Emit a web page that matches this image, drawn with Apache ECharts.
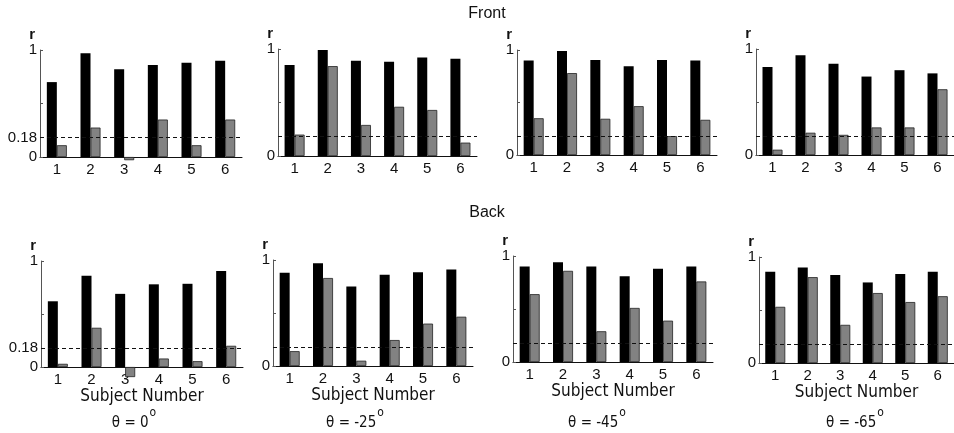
<!DOCTYPE html>
<html>
<head>
<meta charset="utf-8">
<script src="https://cdn.jsdelivr.net/npm/echarts@6/dist/echarts.min.js"></script>
<style>
html,body{margin:0;padding:0;background:#fff;}
#chart{width:954px;height:433px;}
</style>
</head>
<body>
<div id="chart"></div>
<script>
// ---- data ----
var subjects = ['1', '2', '3', '4', '5', '6'];
var front0Black  = [0.70, 0.97, 0.82, 0.86, 0.88, 0.90];
var front0Gray   = [0.11, 0.275, -0.03, 0.35, 0.11, 0.35];
var front25Black = [0.85, 0.99, 0.89, 0.88, 0.92, 0.91];
var front25Gray  = [0.20, 0.84, 0.29, 0.46, 0.43, 0.125];
var front45Black = [0.90, 0.99, 0.905, 0.845, 0.905, 0.90];
var front45Gray  = [0.35, 0.78, 0.345, 0.465, 0.18, 0.335];
var front65Black = [0.83, 0.94, 0.86, 0.74, 0.80, 0.77];
var front65Gray  = [0.05, 0.21, 0.19, 0.26, 0.26, 0.62];
var back0Black   = [0.62, 0.86, 0.69, 0.78, 0.785, 0.905];
var back0Gray    = [0.03, 0.37, -0.095, 0.08, 0.055, 0.20];
var back25Black  = [0.88, 0.97, 0.75, 0.86, 0.885, 0.91];
var back25Gray   = [0.14, 0.83, 0.05, 0.245, 0.40, 0.465];
var back45Black  = [0.90, 0.94, 0.90, 0.81, 0.88, 0.90];
var back45Gray   = [0.64, 0.86, 0.29, 0.51, 0.39, 0.76];
var back65Black  = [0.86, 0.90, 0.83, 0.76, 0.84, 0.86];
var back65Gray   = [0.53, 0.81, 0.36, 0.66, 0.575, 0.63];
var threshold = 0.18;
var yTickValues = [0, 0.5, 1];
var yLabelValues = [0, 1];
var yLabelValuesWithThreshold = [0, 0.18, 1];
var angleLabels = ['0', '-25', '-45', '-65'];
var rowTitles = ['Front', 'Back'];
var xAxisTitle = 'Subject Number';
var yAxisTitle = 'r';

// ---- layout ----
var panels = [
  {black: front0Black,  gray: front0Gray,  grid: {left: 40,  top: 50,  width: 202, height: 107}, thr: true,  bottom: false},
  {black: front25Black, gray: front25Gray, grid: {left: 278, top: 49,  width: 199, height: 107}, thr: false, bottom: false},
  {black: front45Black, gray: front45Gray, grid: {left: 517, top: 50,  width: 200, height: 105}, thr: false, bottom: false},
  {black: front65Black, gray: front65Gray, grid: {left: 756, top: 49,  width: 199, height: 106}, thr: false, bottom: false},
  {black: back0Black,   gray: back0Gray,   grid: {left: 41,  top: 261, width: 202, height: 106}, thr: true,  bottom: true},
  {black: back25Black,  gray: back25Gray,  grid: {left: 273, top: 260, width: 200, height: 106}, thr: false, bottom: true},
  {black: back45Black,  gray: back45Gray,  grid: {left: 513, top: 256, width: 200, height: 106}, thr: false, bottom: true},
  {black: back65Black,  gray: back65Gray,  grid: {left: 759, top: 257, width: 200, height: 106}, thr: false, bottom: true}
];

var FONT = '"Liberation Sans", Arial, sans-serif';
var NARROW = '"Liberation Sans Narrow", "Arial Narrow", "DejaVu Sans Condensed", sans-serif';
var TXT = '#111';

var grids = [], xAxes = [], yAxes = [], series = [];
panels.forEach(function (p, i) {
  grids.push({left: p.grid.left, top: p.grid.top, width: p.grid.width, height: p.grid.height, containLabel: false});
  xAxes.push({
    type: 'category', gridIndex: i, data: subjects, boundaryGap: true,
    axisLine: {show: true, onZero: false, lineStyle: {color: '#111', width: 1}},
    axisTick: {show: false},
    axisLabel: {fontSize: 15, color: TXT, fontFamily: FONT, margin: 5},
    name: p.bottom ? xAxisTitle : '',
    nameLocation: 'middle', nameGap: 19,
    nameTextStyle: {fontSize: 17, color: TXT, fontFamily: NARROW}
  });
  yAxes.push({
    type: 'value', gridIndex: i, min: 0, max: 1,
    splitLine: {show: false},
    axisLine: {show: true, lineStyle: {color: '#555', width: 1}},
    axisTick: {show: true, inside: true, length: 3, customValues: yTickValues, lineStyle: {color: '#555'}},
    axisLabel: {
      fontSize: 15, color: TXT, fontFamily: FONT, margin: 3,
      customValues: p.thr ? yLabelValuesWithThreshold : yLabelValues,
      formatter: function (v) { return String(v); }
    },
    name: yAxisTitle, nameLocation: 'end', nameGap: 6,
    nameTextStyle: {fontSize: 15, fontWeight: 'bold', color: TXT, fontFamily: FONT, align: 'right', verticalAlign: 'bottom', padding: [0, 5, 0, 0]}
  });
  series.push({
    type: 'bar', xAxisIndex: i, yAxisIndex: i, data: p.black,
    barWidth: 10, barGap: '0%', clip: false,
    itemStyle: {color: '#000', borderColor: '#000', borderWidth: 0},
    silent: true, animation: false
  });
  series.push({
    type: 'bar', xAxisIndex: i, yAxisIndex: i, data: p.gray,
    barWidth: 10, barGap: '0%', clip: false,
    itemStyle: {color: '#828282', borderColor: '#222', borderWidth: 0.8},
    silent: true, animation: false,
    markLine: {
      silent: true, symbol: ['none', 'none'], animation: false,
      label: {show: false},
      lineStyle: {type: [4, 3], color: '#111', width: 1},
      data: [{yAxis: threshold}]
    }
  });
});

var titles = [
  {text: rowTitles[0], left: 487, top: 6, textAlign: 'center'},
  {text: rowTitles[1], left: 487, top: 205, textAlign: 'center'}
].map(function (t) {
  return {text: t.text, left: t.left, top: t.top, textAlign: t.textAlign, padding: 0,
    textStyle: {fontSize: 16, fontWeight: 'normal', color: TXT, fontFamily: FONT}};
});

var thetaX = [134, 355, 597, 855];
angleLabels.forEach(function (a, k) {
  titles.push({
    text: '{b|\u03b8 = ' + a + '}{s|o}',
    left: thetaX[k], top: 407, textAlign: 'center', padding: 0,
    textStyle: {
      fontSize: 15, fontWeight: 'normal', color: TXT, fontFamily: NARROW,
      rich: {
        b: {fontSize: 15, color: TXT, fontFamily: NARROW, lineHeight: 24, verticalAlign: 'bottom'},
        s: {fontSize: 12, color: TXT, fontFamily: NARROW, lineHeight: 24, verticalAlign: 'top', padding: [0, 0, 10, 1]}
      }
    }
  });
});

var chart = echarts.init(document.getElementById('chart'), null, {renderer: 'canvas'});
chart.setOption({
  backgroundColor: '#fff',
  animation: false,
  title: titles,
  grid: grids,
  xAxis: xAxes,
  yAxis: yAxes,
  series: series
});
</script>
</body>
</html>
